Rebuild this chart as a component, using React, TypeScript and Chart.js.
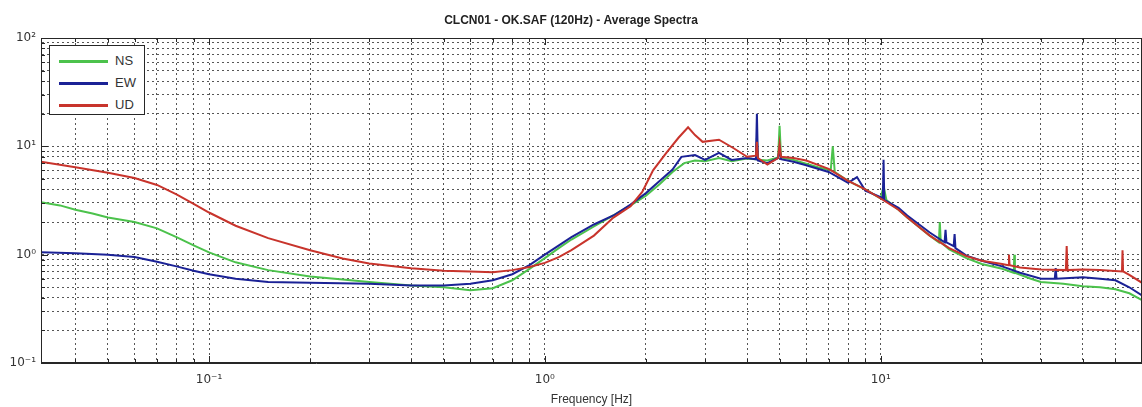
import React, { useEffect, useRef } from 'react';
import { Chart, registerables } from 'chart.js';

Chart.register(...registerables);

const TITLE = 'CLCN01 - OK.SAF (120Hz) - Average Spectra';
const X_TITLE = 'Frequency [Hz]';
const SERIES_NAMES = ['NS', 'EW', 'UD'];
const SERIES_COLORS = ['#4cc24c', '#1b2296', '#c8342c'];
const FONT = '"Liberation Sans", Arial, sans-serif';

const X_MIN = 0.0316;
const X_MAX = 60;
const Y_MIN = 0.1;
const Y_MAX = 100;

const X_GRID = [0.04, 0.05, 0.06, 0.07, 0.08, 0.09, 0.1, 0.2, 0.3, 0.4, 0.5, 0.6, 0.7, 0.8, 0.9, 1, 2, 3, 4, 5, 6, 7, 8, 9, 10, 20, 30, 40, 50];
const Y_GRID = [0.1, 0.2, 0.3, 0.4, 0.5, 0.6, 0.7, 0.8, 0.9, 1, 2, 3, 4, 5, 6, 7, 8, 9, 10, 20, 30, 40, 50, 60, 70, 80, 90, 100];
const X_LABEL_VALUES = [0.1, 1, 10];
const X_LABELS = ['10⁻¹', '10⁰', '10¹'];
const Y_LABEL_VALUES = [0.1, 1, 10, 100];
const Y_LABELS = ['10⁻¹', '10⁰', '10¹', '10²'];

const NS_FREQ = [0.0316, 0.036, 0.04, 0.045, 0.05, 0.06, 0.07, 0.08, 0.09, 0.1, 0.12, 0.15, 0.2, 0.25, 0.3, 0.4, 0.5, 0.6, 0.7, 0.8, 0.9, 1.0, 1.1, 1.2, 1.4, 1.6, 1.8, 2.0, 2.2, 2.4, 2.6, 2.8, 3.0, 3.3, 3.6, 4.0, 4.25, 4.28, 4.31, 4.6, 4.95, 5.0, 5.05, 5.5, 6.0, 6.5, 7.1, 7.2, 7.3, 8.0, 9.0, 10.0, 10.2, 10.4, 11.3, 12, 14, 14.9, 15.0, 15.1, 16, 18, 20, 23, 24.9, 25.0, 25.1, 28, 30, 35, 40, 45, 50, 55, 60];
const NS_AMP = [3.05, 2.85, 2.6, 2.4, 2.2, 2.0, 1.75, 1.45, 1.22, 1.05, 0.85, 0.72, 0.63, 0.59, 0.56, 0.52, 0.5, 0.47, 0.49, 0.58, 0.74, 0.93, 1.15, 1.38, 1.82, 2.3, 2.85, 3.5, 4.5, 5.8, 7.0, 7.4, 7.3, 7.8, 7.3, 7.7, 7.6, 12, 7.5, 7.4, 7.9, 15.5, 7.9, 7.5, 6.9, 6.4, 6.0, 10, 5.8, 4.8, 4.0, 3.3, 4.3, 3.2, 2.6, 2.2, 1.5, 1.3, 2.0, 1.3, 1.12, 0.93, 0.82, 0.74, 0.68, 1.0, 0.68, 0.6, 0.56, 0.54, 0.51, 0.5, 0.48, 0.44, 0.38];

const EW_FREQ = [0.0316, 0.04, 0.05, 0.06, 0.07, 0.08, 0.09, 0.1, 0.12, 0.15, 0.2, 0.3, 0.4, 0.5, 0.6, 0.7, 0.8, 0.9, 1.0, 1.2, 1.4, 1.6, 1.8, 2.0, 2.2, 2.4, 2.55, 2.8, 3.0, 3.3, 3.6, 4.0, 4.25, 4.28, 4.31, 4.6, 4.95, 5.0, 5.05, 5.5, 6.0, 7.0, 8.0, 8.5, 9.0, 10.0, 10.15, 10.2, 10.25, 11.3, 12, 14, 15.5, 15.6, 15.7, 16.5, 16.6, 16.7, 18, 20, 23, 26, 30, 33, 33.2, 33.4, 40, 45, 50, 55, 60];
const EW_AMP = [1.05, 1.03, 1.0, 0.95, 0.86, 0.78, 0.71, 0.66, 0.6, 0.56, 0.55, 0.54, 0.52, 0.52, 0.54, 0.58, 0.66, 0.8, 1.0, 1.45, 1.9, 2.3, 2.9, 3.7, 4.8, 6.1, 8.0, 8.3, 7.5, 8.7, 7.5, 7.8, 7.6, 20, 7.4, 7.0, 7.8, 9.5, 7.6, 7.2, 6.7, 5.8, 4.6, 5.2, 3.9, 3.4, 3.3, 7.5, 3.2, 2.7, 2.3, 1.6, 1.3, 1.7, 1.3, 1.2, 1.55, 1.15, 0.98, 0.88, 0.78, 0.68, 0.6, 0.6, 0.75, 0.6, 0.62, 0.6, 0.58, 0.5, 0.42];

const UD_FREQ = [0.0316, 0.04, 0.05, 0.06, 0.07, 0.08, 0.09, 0.1, 0.12, 0.15, 0.2, 0.25, 0.3, 0.4, 0.5, 0.6, 0.7, 0.8, 0.9, 1.0, 1.1, 1.2, 1.4, 1.6, 1.8, 1.95, 2.1, 2.3, 2.5, 2.67, 2.8, 2.95, 3.3, 3.65, 4.0, 4.25, 4.28, 4.31, 4.6, 4.95, 5.0, 5.05, 5.5, 6.0, 7.0, 8.0, 9.0, 10, 11.3, 12, 14, 16, 18, 20, 23, 24, 24.1, 24.2, 26, 30, 35.6, 35.8, 36.0, 40, 45, 52.3, 52.5, 52.7, 55, 60];
const UD_AMP = [7.2, 6.4, 5.7, 5.1, 4.4, 3.6, 2.95, 2.45, 1.85, 1.42, 1.1, 0.92, 0.83, 0.75, 0.71, 0.7, 0.69, 0.72, 0.77, 0.84, 0.95, 1.1, 1.5, 2.2, 2.8, 3.8, 6.0, 8.7, 12, 15, 12.7, 11, 11.5, 9.6, 8.0, 8.2, 11, 7.8, 6.8, 7.8, 10.5, 8.0, 7.8, 7.4, 6.2, 4.8, 4.0, 3.3, 2.6, 2.2, 1.5, 1.15, 0.97, 0.88, 0.82, 0.8, 1.0, 0.8, 0.76, 0.73, 0.72, 1.2, 0.72, 0.73, 0.72, 0.7, 1.1, 0.7, 0.65, 0.55];

const SERIES_FREQ = [NS_FREQ, EW_FREQ, UD_FREQ];
const SERIES_AMP = [NS_AMP, EW_AMP, UD_AMP];

const isDecade = (v: number) => Math.abs(Math.log10(v) - Math.round(Math.log10(v))) < 1e-6;

const labelFor = (v: number, values: number[], labels: string[]) => {
  const i = values.findIndex((d) => Math.abs(Math.log10(d) - Math.log10(v)) < 1e-6);
  return i >= 0 ? labels[i] : '';
};

const framePlugin = {
  id: 'frame',
  afterDraw(chart: any) {
    const { ctx, chartArea: a, scales } = chart;
    ctx.save();
    ctx.strokeStyle = '#262626';
    ctx.lineWidth = 1;
    ctx.setLineDash([]);
    ctx.strokeRect(a.left + 0.5, a.top + 0.5, a.right - a.left - 1, a.bottom - a.top - 1);
    ctx.beginPath();
    for (const v of X_GRID) {
      const x = Math.round(scales.x.getPixelForValue(v)) + 0.5;
      const len = isDecade(v) ? 7 : 4;
      ctx.moveTo(x, a.bottom);
      ctx.lineTo(x, a.bottom - len);
      ctx.moveTo(x, a.top);
      ctx.lineTo(x, a.top + len);
    }
    for (const v of Y_GRID) {
      const y = Math.round(scales.y.getPixelForValue(v)) + 0.5;
      const len = isDecade(v) ? 7 : 4;
      ctx.moveTo(a.left, y);
      ctx.lineTo(a.left + len, y);
    }
    ctx.stroke();
    ctx.restore();
  },
};

export default function App() {
  const canvasRef = useRef<HTMLCanvasElement | null>(null);

  useEffect(() => {
    const canvas = canvasRef.current;
    if (!canvas) return;
    const datasets = SERIES_NAMES.map((name, s) => ({
      label: name,
      data: SERIES_FREQ[s].map((f, i) => ({ x: f, y: SERIES_AMP[s][i] })),
      borderColor: SERIES_COLORS[s],
      backgroundColor: SERIES_COLORS[s],
      borderWidth: 2,
      pointRadius: 0,
      tension: 0,
      fill: false,
      order: 2 - s,
    }));
    const gridCommon = {
      color: 'rgba(30,30,30,0.75)',
      lineWidth: 1,
      drawTicks: false,
    };
    const chart = new Chart(canvas, {
      type: 'line',
      data: { datasets },
      plugins: [framePlugin],
      options: {
        animation: false,
        responsive: false,
        devicePixelRatio: 1,
        layout: { padding: { left: 0, right: 0, top: 0, bottom: 0 } },
        plugins: {
          legend: { display: false },
          tooltip: { enabled: false },
          title: {
            display: true,
            text: TITLE,
            color: '#222',
            font: { family: FONT, size: 12, weight: 'bold' },
            padding: { top: 13, bottom: 10.6 },
          },
        },
        scales: {
          x: {
            type: 'logarithmic',
            min: X_MIN,
            max: X_MAX,
            afterBuildTicks: (scale: any) => {
              scale.ticks = X_GRID.map((v) => ({ value: v }));
            },
            afterFit: (scale: any) => {
              scale.height = 44;
            },
            grid: gridCommon,
            border: { display: true, color: '#262626', dash: [2, 3] },
            ticks: {
              autoSkip: false,
              maxRotation: 0,
              padding: 10,
              color: '#333',
              font: { family: '"DejaVu Sans", sans-serif', size: 12 },
              callback: (v: any) => labelFor(Number(v), X_LABEL_VALUES, X_LABELS),
            },
            title: {
              display: true,
              text: X_TITLE,
              color: '#333',
              font: { family: FONT, size: 12 },
              padding: { top: 0, bottom: 0 },
            },
          },
          y: {
            type: 'logarithmic',
            min: Y_MIN,
            max: Y_MAX,
            afterBuildTicks: (scale: any) => {
              scale.ticks = Y_GRID.map((v) => ({ value: v }));
            },
            afterFit: (scale: any) => {
              scale.width = 41;
            },
            grid: gridCommon,
            border: { display: true, color: '#262626', dash: [2, 3] },
            ticks: {
              autoSkip: false,
              padding: 5,
              color: '#333',
              font: { family: '"DejaVu Sans", sans-serif', size: 12 },
              callback: (v: any) => labelFor(Number(v), Y_LABEL_VALUES, Y_LABELS),
            },
          },
        },
      } as any,
    });
    return () => chart.destroy();
  }, []);

  const legendRows = SERIES_NAMES.map((name, i) => (
    <div key={name} style={{ position: 'absolute', left: 0, top: 6 + i * 22, width: 94, height: 18 }}>
      <div
        style={{
          position: 'absolute',
          left: 9,
          top: 8,
          width: 49,
          height: 2.5,
          background: SERIES_COLORS[i],
        }}
      />
      <span
        style={{
          position: 'absolute',
          left: 65,
          top: 0,
          lineHeight: '18px',
          fontSize: 13,
          fontFamily: FONT,
          color: '#333',
        }}
      >
        {name}
      </span>
    </div>
  ));

  return (
    <div style={{ position: 'absolute', left: 0, top: 0, width: 1142, height: 407, background: '#fff' }}>
      <canvas ref={canvasRef} width={1142} height={407} style={{ display: 'block' }} />
      <div
        style={{
          position: 'absolute',
          left: 49,
          top: 45,
          width: 96,
          height: 70,
          boxSizing: 'border-box',
          border: '1px solid #262626',
          background: '#fff',
        }}
      >
        {legendRows}
      </div>
    </div>
  );
}
